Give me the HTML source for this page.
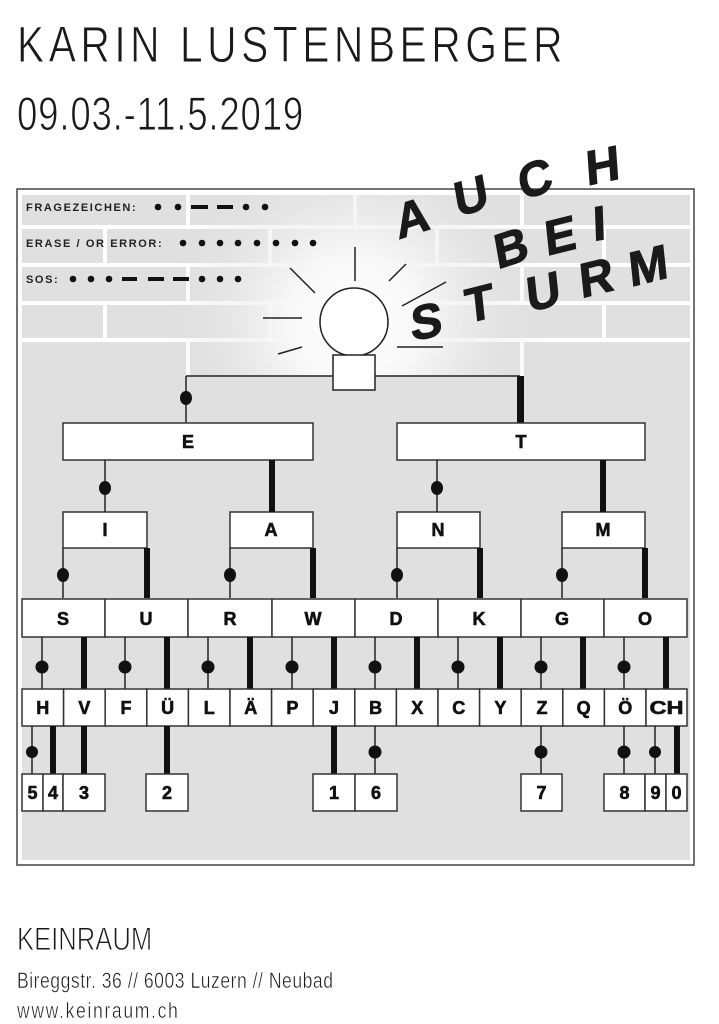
<!DOCTYPE html>
<html><head><meta charset="utf-8"><style>
html,body{margin:0;padding:0;background:#fff;}
svg{display:block;}
</style></head><body>
<svg width="719" height="1024" viewBox="0 0 719 1024" xmlns="http://www.w3.org/2000/svg">
<defs>
<radialGradient id="glow" cx="355" cy="322" r="190" gradientUnits="userSpaceOnUse">
<stop offset="0" stop-color="#ffffff"/>
<stop offset="0.35" stop-color="#f8f8f8"/>
<stop offset="1" stop-color="#e0e0e0" stop-opacity="0"/>
</radialGradient>
</defs>
<g font-family="Liberation Sans, sans-serif" fill="#1a1a1a" stroke="#fff" stroke-width="0.9">
<text transform="translate(17,62) scale(0.8,1)" font-size="51" textLength="682" lengthAdjust="spacing">KARIN  LUSTENBERGER</text>
<text transform="translate(17,130) scale(0.78,1)" font-size="47" textLength="367" lengthAdjust="spacing">09.03.-11.5.2019</text>
<text transform="translate(17,950) scale(0.8,1)" font-size="32" textLength="169" lengthAdjust="spacing">KEINRAUM</text>
<text transform="translate(17,988) scale(0.8,1)" font-size="22" textLength="395" lengthAdjust="spacing" stroke-width="0.5">Bireggstr. 36 // 6003 Luzern // Neubad</text>
<text transform="translate(17,1018) scale(0.8,1)" font-size="22" textLength="201" lengthAdjust="spacing" stroke-width="0.5">www.keinraum.ch</text>
</g>
<rect x="17" y="189" width="677" height="676" fill="#fff" stroke="#444" stroke-width="1.5"/>
<rect x="22" y="195" width="668" height="665" fill="#e0e0e0"/>
<g stroke="#fff" stroke-width="4">
<line x1="22" y1="227" x2="690" y2="227"/>
<line x1="22" y1="265" x2="690" y2="265"/>
<line x1="22" y1="303" x2="690" y2="303"/>
<line x1="22" y1="340" x2="690" y2="340"/>
<line x1="188" y1="195" x2="188" y2="227"/><line x1="355" y1="195" x2="355" y2="227"/><line x1="522" y1="195" x2="522" y2="227"/>
<line x1="105" y1="227" x2="105" y2="265"/><line x1="270" y1="227" x2="270" y2="265"/><line x1="437" y1="227" x2="437" y2="265"/><line x1="604" y1="227" x2="604" y2="265"/>
<line x1="188" y1="265" x2="188" y2="303"/><line x1="355" y1="265" x2="355" y2="303"/><line x1="522" y1="265" x2="522" y2="303"/>
<line x1="105" y1="303" x2="105" y2="340"/><line x1="270" y1="303" x2="270" y2="340"/><line x1="437" y1="303" x2="437" y2="340"/><line x1="604" y1="303" x2="604" y2="340"/>
<line x1="188" y1="340" x2="188" y2="376"/><line x1="522" y1="340" x2="522" y2="376"/>
</g>
<rect x="22" y="195" width="668" height="181" fill="url(#glow)"/>
<g font-family="Liberation Sans, sans-serif" font-weight="bold" font-size="11" fill="#222" letter-spacing="1.6">
<text x="26" y="211">FRAGEZEICHEN:</text>
<text x="26" y="247">ERASE / OR ERROR:</text>
<text x="26" y="283">SOS:</text>
</g>
<g fill="#111">
<circle cx="158" cy="207" r="3.3"/><circle cx="178" cy="207" r="3.3"/>
<rect x="191" y="205" width="17" height="4"/><rect x="217" y="205" width="16" height="4"/>
<circle cx="246" cy="207" r="3.3"/><circle cx="265" cy="207" r="3.3"/>
<circle cx="183" cy="243" r="3.3"/><circle cx="202" cy="243" r="3.3"/><circle cx="220" cy="243" r="3.3"/><circle cx="238" cy="243" r="3.3"/><circle cx="257" cy="243" r="3.3"/><circle cx="276" cy="243" r="3.3"/><circle cx="295" cy="243" r="3.3"/><circle cx="313" cy="243" r="3.3"/>
<circle cx="73" cy="279" r="3.3"/><circle cx="91" cy="279" r="3.3"/><circle cx="109" cy="279" r="3.3"/>
<rect x="122" y="277" width="15" height="4"/><rect x="148" y="277" width="16" height="4"/><rect x="173" y="277" width="16" height="4"/>
<circle cx="202" cy="279" r="3.3"/><circle cx="220" cy="279" r="3.3"/><circle cx="238" cy="279" r="3.3"/>
</g>
<g stroke="#222" stroke-width="1.5">
<line x1="355" y1="247" x2="355" y2="281"/>
<line x1="290" y1="268" x2="315" y2="293"/>
<line x1="389" y1="281" x2="406" y2="264"/>
<line x1="402" y1="306" x2="446" y2="282"/>
<line x1="263" y1="318" x2="302" y2="318"/>
<line x1="278" y1="354" x2="302" y2="347"/>
<line x1="397" y1="347" x2="443" y2="347"/>
</g>
<line x1="186" y1="376" x2="520" y2="376" stroke="#222" stroke-width="1.5"/>
<line x1="186" y1="376" x2="186" y2="423" stroke="#222" stroke-width="1.5"/>
<ellipse cx="186" cy="398" rx="6" ry="7" fill="#111"/>
<rect x="517" y="376" width="7" height="47" fill="#111"/>
<circle cx="354" cy="322" r="34" fill="#fff" stroke="#222" stroke-width="1.5"/>
<rect x="333" y="355" width="42" height="35" fill="#fff" stroke="#222" stroke-width="1.5"/>
<g font-family="Liberation Sans, sans-serif" font-weight="bold" font-size="48" fill="#1a1a1a" stroke="#1a1a1a" stroke-width="1" text-anchor="middle">
<text transform="translate(415,234) rotate(-18) skewX(-8)">A</text>
<text transform="translate(474,212) rotate(-18) skewX(-8)">U</text>
<text transform="translate(538,195) rotate(-18) skewX(-8)">C</text>
<text transform="translate(604,182) rotate(-12) skewX(-8)">H</text>
<text transform="translate(514,264) rotate(-18) skewX(-8)">B</text>
<text transform="translate(562,252) rotate(-14) skewX(-8)">E</text>
<text transform="translate(600,240) rotate(-10) skewX(-8)">I</text>
<text transform="translate(427,338) rotate(-10) skewX(-8)">S</text>
<text transform="translate(481,320) rotate(-14) skewX(-8)">T</text>
<text transform="translate(545,308) rotate(-14) skewX(-8)">U</text>
<text transform="translate(598,294) rotate(-14) skewX(-8)">R</text>
<text transform="translate(650,282) rotate(-14) skewX(-8)">M</text>
</g>
<g stroke="#333" stroke-width="1.5" fill="#fff">
<rect x="63" y="423" width="250" height="37"/>
<rect x="397" y="423" width="248" height="37"/>
<rect x="63" y="512" width="84" height="36"/>
<rect x="230" y="512" width="83" height="36"/>
<rect x="397" y="512" width="83" height="36"/>
<rect x="562" y="512" width="83" height="36"/>
</g>
<g stroke="#222" stroke-width="1.5">
<line x1="105" y1="460" x2="105" y2="512"/>
<line x1="437" y1="460" x2="437" y2="512"/>
<line x1="63" y1="548" x2="63" y2="598"/>
<line x1="230" y1="548" x2="230" y2="598"/>
<line x1="397" y1="548" x2="397" y2="598"/>
<line x1="562" y1="548" x2="562" y2="598"/>
</g>
<g fill="#111">
<ellipse cx="105" cy="488" rx="6" ry="7"/><ellipse cx="437" cy="488" rx="6" ry="7"/>
<rect x="269" y="460" width="6" height="52"/><rect x="600" y="460" width="6" height="52"/>
<ellipse cx="63" cy="575" rx="6" ry="7"/><ellipse cx="230" cy="575" rx="6" ry="7"/><ellipse cx="397" cy="575" rx="6" ry="7"/><ellipse cx="562" cy="575" rx="6" ry="7"/>
<rect x="144" y="548" width="6" height="50"/><rect x="310" y="548" width="6" height="50"/><rect x="477" y="548" width="6" height="50"/><rect x="642" y="548" width="6" height="50"/>
</g>
<g stroke="#333" stroke-width="1.5" fill="#fff">
<rect x="22" y="599" width="83" height="38"/><rect x="105" y="599" width="83" height="38"/><rect x="188" y="599" width="84" height="38"/><rect x="272" y="599" width="83" height="38"/>
<rect x="355" y="599" width="83" height="38"/><rect x="438" y="599" width="83" height="38"/><rect x="521" y="599" width="83" height="38"/><rect x="604" y="599" width="83" height="38"/>
</g>
<g stroke="#222" stroke-width="1.5">
<line x1="42" y1="637" x2="42" y2="689"/><line x1="125" y1="637" x2="125" y2="689"/><line x1="208" y1="637" x2="208" y2="689"/><line x1="292" y1="637" x2="292" y2="689"/>
<line x1="375" y1="637" x2="375" y2="689"/><line x1="458" y1="637" x2="458" y2="689"/><line x1="541" y1="637" x2="541" y2="689"/><line x1="624" y1="637" x2="624" y2="689"/>
</g>
<g fill="#111">
<circle cx="42" cy="667" r="6.5"/><circle cx="125" cy="667" r="6.5"/><circle cx="208" cy="667" r="6.5"/><circle cx="292" cy="667" r="6.5"/>
<circle cx="375" cy="667" r="6.5"/><circle cx="458" cy="667" r="6.5"/><circle cx="541" cy="667" r="6.5"/><circle cx="624" cy="667" r="6.5"/>
<rect x="81" y="637" width="6" height="52"/><rect x="164" y="637" width="6" height="52"/><rect x="247" y="637" width="6" height="52"/><rect x="331" y="637" width="6" height="52"/>
<rect x="414" y="637" width="6" height="52"/><rect x="497" y="637" width="6" height="52"/><rect x="580" y="637" width="6" height="52"/><rect x="663" y="637" width="6" height="52"/>
</g>
<g stroke="#333" stroke-width="1.5" fill="#fff">
<rect x="22" y="689" width="41.6" height="37"/><rect x="63.6" y="689" width="41.6" height="37"/><rect x="105.2" y="689" width="41.6" height="37"/><rect x="146.8" y="689" width="41.6" height="37"/>
<rect x="188.4" y="689" width="41.6" height="37"/><rect x="230" y="689" width="41.6" height="37"/><rect x="271.6" y="689" width="41.6" height="37"/><rect x="313.2" y="689" width="41.6" height="37"/>
<rect x="354.8" y="689" width="41.6" height="37"/><rect x="396.4" y="689" width="41.6" height="37"/><rect x="438" y="689" width="41.6" height="37"/><rect x="479.6" y="689" width="41.6" height="37"/>
<rect x="521.2" y="689" width="41.6" height="37"/><rect x="562.8" y="689" width="41.6" height="37"/><rect x="604.4" y="689" width="41.6" height="37"/><rect x="646" y="689" width="41" height="37"/>
</g>
<g stroke="#222" stroke-width="1.5">
<line x1="32" y1="726" x2="32" y2="774"/><line x1="375" y1="726" x2="375" y2="774"/><line x1="541" y1="726" x2="541" y2="774"/><line x1="624" y1="726" x2="624" y2="774"/><line x1="655" y1="726" x2="655" y2="774"/>
</g>
<g fill="#111">
<circle cx="32" cy="752" r="6"/><circle cx="375" cy="752" r="6.5"/><circle cx="541" cy="752" r="6.5"/><circle cx="624" cy="752" r="6.5"/><circle cx="655" cy="752" r="6"/>
<rect x="50" y="726" width="6" height="48"/><rect x="81" y="726" width="6" height="48"/><rect x="164" y="726" width="6" height="48"/><rect x="331" y="726" width="6" height="48"/><rect x="674" y="726" width="6" height="48"/>
</g>
<g stroke="#333" stroke-width="1.5" fill="#fff">
<rect x="22" y="774" width="21" height="37"/><rect x="43" y="774" width="20" height="37"/><rect x="63" y="774" width="42" height="37"/>
<rect x="146" y="774" width="42" height="37"/><rect x="313" y="774" width="42" height="37"/><rect x="355" y="774" width="42" height="37"/>
<rect x="521" y="774" width="41" height="37"/><rect x="604" y="774" width="41" height="37"/><rect x="645" y="774" width="21" height="37"/><rect x="666" y="774" width="21" height="37"/>
</g>
<g font-family="Liberation Sans, sans-serif" font-weight="bold" font-size="18" fill="#111" stroke="#111" stroke-width="0.6" text-anchor="middle">
<text x="188" y="448">E</text><text x="521" y="448">T</text>
<text x="105" y="536">I</text><text x="271" y="536">A</text><text x="438" y="536">N</text><text x="603" y="536">M</text>
<text x="63" y="625">S</text><text x="146" y="625">U</text><text x="230" y="625">R</text><text x="313" y="625">W</text>
<text x="396" y="625">D</text><text x="479" y="625">K</text><text x="562" y="625">G</text><text x="645" y="625">O</text>
<text x="42.8" y="714">H</text><text x="84.4" y="714">V</text><text x="126" y="714">F</text><text x="167.6" y="714">Ü</text>
<text x="209.2" y="714">L</text><text x="250.8" y="714">Ä</text><text x="292.4" y="714">P</text><text x="334" y="714">J</text>
<text x="375.6" y="714">B</text><text x="417.2" y="714">X</text><text x="458.8" y="714">C</text><text x="500.4" y="714">Y</text>
<text x="542" y="714">Z</text><text x="583.6" y="714">Q</text><text x="625.2" y="714">Ö</text><text x="666.5" y="714" textLength="34" lengthAdjust="spacingAndGlyphs">CH</text>
<text x="32.5" y="799">5</text><text x="53" y="799">4</text><text x="84" y="799">3</text><text x="167" y="799">2</text><text x="334" y="799">1</text><text x="376" y="799">6</text>
<text x="541.5" y="799">7</text><text x="624.5" y="799">8</text><text x="655.5" y="799">9</text><text x="676.5" y="799">0</text>
</g>
</svg>
</body></html>
